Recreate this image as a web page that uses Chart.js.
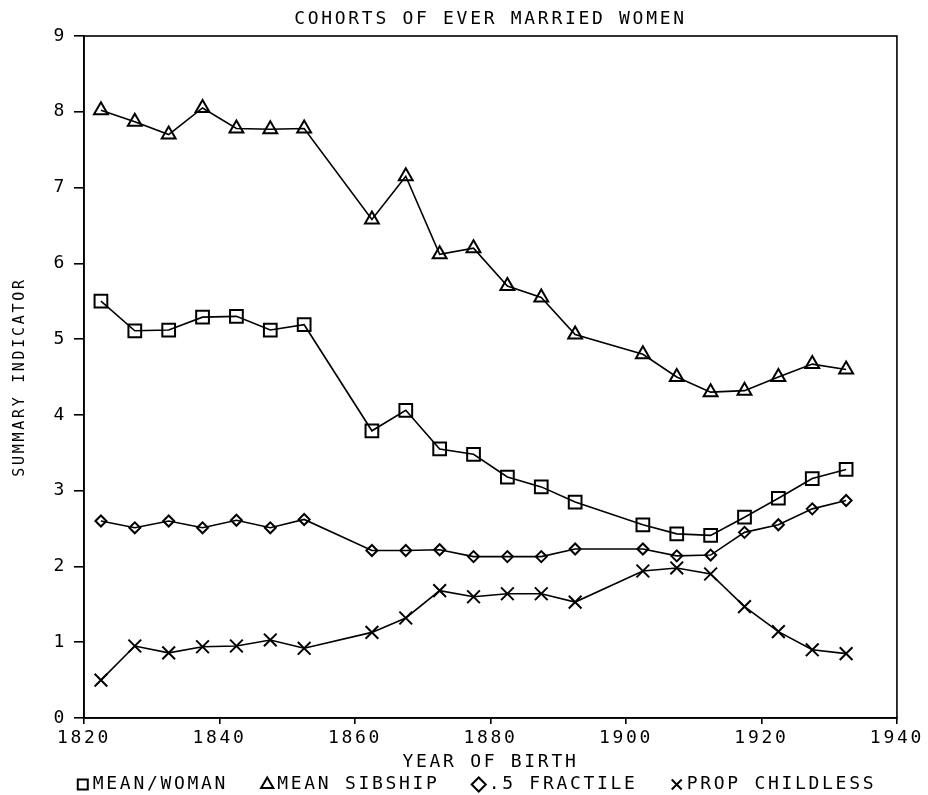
<!DOCTYPE html>
<html>
<head>
<meta charset="utf-8">
<script src="https://cdn.jsdelivr.net/npm/chart.js@4"></script>
<style>
  html, body { margin: 0; padding: 0; background: #fff; }
  canvas { display: block; }
</style>
</head>
<body>
<canvas id="chart" width="928" height="795"></canvas>
<script>
// cohort mid-years (x) and the four summary indicators
const years = [1822.5, 1827.5, 1832.5, 1837.5, 1842.5, 1847.5, 1852.5, 1862.5, 1867.5, 1872.5, 1877.5,
               1882.5, 1887.5, 1892.5, 1902.5, 1907.5, 1912.5, 1917.5, 1922.5, 1927.5, 1932.5];
const meanWoman = [5.50, 5.11, 5.12, 5.29, 5.30, 5.12, 5.19, 3.79, 4.06, 3.55, 3.48,
                   3.18, 3.05, 2.85, 2.55, 2.43, 2.41, 2.65, 2.90, 3.16, 3.28];
const meanSibship = [8.02, 7.87, 7.70, 8.05, 7.78, 7.77, 7.78, 6.58, 7.15, 6.12, 6.20,
                     5.70, 5.55, 5.06, 4.80, 4.50, 4.30, 4.32, 4.50, 4.67, 4.60];
const fractile = [2.60, 2.51, 2.60, 2.51, 2.61, 2.51, 2.62, 2.21, 2.21, 2.22, 2.13,
                  2.13, 2.13, 2.23, 2.23, 2.14, 2.15, 2.45, 2.55, 2.76, 2.87];
const propChildless = [0.50, 0.95, 0.86, 0.94, 0.95, 1.03, 0.92, 1.13, 1.32, 1.68, 1.60,
                       1.64, 1.64, 1.53, 1.94, 1.98, 1.90, 1.47, 1.14, 0.90, 0.85];

const labels = ['MEAN/WOMAN', 'MEAN SIBSHIP', '.5 FRACTILE', 'PROP CHILDLESS'];
const xTicks = [1820, 1840, 1860, 1880, 1900, 1920, 1940];
const yTicks = [0, 1, 2, 3, 4, 5, 6, 7, 8, 9];

// plotter lettering is monospaced, about 13.5px a character
const FONT = 'DejaVu Sans Mono';
const SPACING = '2.7px';

const letterSpacing = {
    id: 'letterSpacing',
    beforeLayout(chart) { chart.ctx.letterSpacing = SPACING; },
    beforeDraw(chart) { chart.ctx.letterSpacing = SPACING; }
};

// box round the plot area
const frame = {
    id: 'frame',
    beforeDatasetsDraw(chart) {
        const { ctx, chartArea: a } = chart;
        ctx.save();
        ctx.strokeStyle = '#000';
        ctx.lineWidth = 1.6;
        ctx.strokeRect(a.left, a.top, a.right - a.left, a.bottom - a.top);
        ctx.restore();
    }
};

function series(label, values, style, radius) {
    return {
        label: label,
        data: years.map((y, i) => ({ x: y, y: values[i] })),
        borderColor: '#000',
        borderWidth: 1.6,
        backgroundColor: 'rgba(0,0,0,0)',
        pointStyle: style,
        pointRadius: radius,
        pointHoverRadius: radius,
        pointBorderColor: '#000',
        pointBackgroundColor: 'rgba(0,0,0,0)',
        pointBorderWidth: 2,
        tension: 0
    };
}

new Chart(document.getElementById('chart'), {
    type: 'line',
    data: {
        datasets: [
            series(labels[0], meanWoman, 'rect', 9),
            series(labels[1], meanSibship, 'triangle', 8),
            series(labels[2], fractile, 'rectRot', 5.5),
            series(labels[3], propChildless, 'crossRot', 9)
        ]
    },
    options: {
        responsive: false,
        animation: false,
        events: [],
        // left padding only nudges the bottom legend to the right; the y axis width makes up for it
        layout: { padding: { left: 30, right: 0, top: 0, bottom: 0 } },
        plugins: {
            title: {
                display: true,
                text: 'COHORTS OF EVER MARRIED WOMEN',
                color: '#000',
                fullSize: false,
                font: { family: FONT, size: 18, weight: 'normal' },
                padding: { top: 8.5, bottom: 5.9 }
            },
            legend: {
                position: 'bottom',
                maxHeight: 30.5,
                labels: {
                    usePointStyle: true,
                    boxWidth: 2,
                    boxHeight: 10,
                    padding: 11,
                    color: '#000',
                    font: { family: FONT, size: 18 },
                    generateLabels(chart) {
                        const items = Chart.defaults.plugins.legend.labels.generateLabels(chart);
                        items.forEach((it, i) => { if (i < items.length - 1) it.text = it.text + '  '; });
                        return items;
                    }
                }
            },
            tooltip: { enabled: false }
        },
        scales: {
            x: {
                type: 'linear',
                min: 1820,
                max: 1940,
                afterFit(scale) { scale.height = 46.5; },
                afterBuildTicks(scale) { scale.ticks = xTicks.map(v => ({ value: v })); },
                border: { display: true, color: '#000', width: 1.6 },
                grid: { drawOnChartArea: false, color: '#000', tickLength: 6, lineWidth: 1.6 },
                ticks: {
                    color: '#000', padding: 4, maxRotation: 0,
                    font: { family: FONT, size: 18 },
                    callback: v => String(v)
                },
                title: {
                    display: true,
                    text: 'YEAR OF BIRTH',
                    color: '#000',
                    font: { family: FONT, size: 18, lineHeight: 1 },
                    padding: { top: 0, bottom: -7 }
                }
            },
            y: {
                min: 0,
                max: 9,
                afterFit(scale) { scale.width = 54; },
                afterBuildTicks(scale) { scale.ticks = yTicks.map(v => ({ value: v })); },
                border: { display: true, color: '#000', width: 1.6 },
                grid: { drawOnChartArea: false, color: '#000', tickLength: 10, lineWidth: 1.6 },
                ticks: { color: '#000', padding: 7, font: { family: FONT, size: 18 } },
                title: {
                    display: true,
                    text: 'SUMMARY INDICATOR',
                    color: '#000',
                    font: { family: FONT, size: 15, lineHeight: 1 },
                    padding: { top: -17, bottom: 0 }
                }
            }
        }
    },
    plugins: [letterSpacing, frame]
});
</script>
</body>
</html>
